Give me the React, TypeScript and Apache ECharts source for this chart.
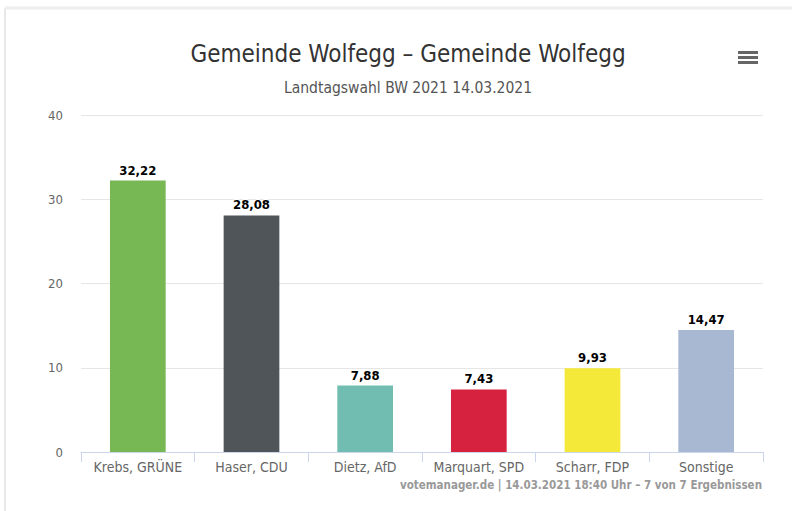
import React, { useEffect, useRef } from "react";
import * as echarts from "echarts";

const categories = ["Krebs, GRÜNE", "Haser, CDU", "Dietz, AfD", "Marquart, SPD", "Scharr, FDP", "Sonstige"];
const values = [32.22, 28.08, 7.88, 7.43, 9.93, 14.47];
const barColors = ["#78b854", "#4f5559", "#72bdb1", "#d7223f", "#f4e939", "#a8b8d3"];
const yTicks = [0, 10, 20, 30, 40];

const titleText = "Gemeinde Wolfegg – Gemeinde Wolfegg";
const subtitleText = "Landtagswahl BW 2021 14.03.2021";
const footerText = "votemanager.de | 14.03.2021 18:40 Uhr – 7 von 7 Ergebnissen";

const FONT = "'Liberation Sans Narrow', 'DejaVu Sans Condensed', 'Open Sans', sans-serif";

export default function App() {
  const ref = useRef<HTMLDivElement>(null);
  useEffect(() => {
    if (!ref.current) return;
    const chart = echarts.init(ref.current, null, { renderer: "svg" });
    chart.setOption({
      animation: false,
      backgroundColor: "#ffffff",
      textStyle: { fontFamily: FONT },
      title: {
        text: titleText,
        subtext: subtitleText,
        left: 403,
        top: 37,
        textAlign: "center",
        itemGap: 14,
        textStyle: { fontSize: 24, fontWeight: "normal", color: "#333333", fontFamily: FONT },
        subtextStyle: { fontSize: 15.5, color: "#555555", fontFamily: FONT },
      },
      grid: { left: 81, right: 29, top: 115, bottom: 59, containLabel: false },
      xAxis: {
        type: "category",
        data: categories,
        axisLine: { lineStyle: { color: "#ccd6eb" } },
        axisTick: { show: true, alignWithLabel: false, length: 10, lineStyle: { color: "#ccd6eb" } },
        axisLabel: { color: "#666666", fontSize: 14, margin: 8, interval: 0, fontFamily: FONT },
      },
      yAxis: {
        type: "value",
        min: 0,
        max: 40,
        interval: 10,
        axisLine: { show: false },
        axisTick: { show: false },
        splitLine: { lineStyle: { color: "#e6e6e6" } },
        axisLabel: { color: "#666666", fontSize: 13, margin: 18, fontFamily: FONT,
          formatter: (v: number) => (yTicks.includes(v) ? String(v) : "") },
      },
      series: [
        {
          type: "bar",
          data: values.map((v, i) => ({ value: v, itemStyle: { color: barColors[i] } })),
          barWidth: "49%",
          label: {
            show: true,
            position: "top",
            distance: 4,
            formatter: (p: any) => p.value.toFixed(2).replace(".", ","),
            fontSize: 13,
            fontWeight: "bold",
            color: "#000000",
            textBorderColor: "#ffffff",
            textBorderWidth: 2,
            fontFamily: FONT,
          },
        },
      ],
      graphic: [
        { type: "line", shape: { x1: 5, y1: 8, x2: 5, y2: 511 }, style: { stroke: "#e8e8e8", lineWidth: 2 } },
        { type: "line", shape: { x1: 5, y1: 8, x2: 792, y2: 8 }, style: { stroke: "#eeeeee", lineWidth: 3 } },
        { type: "rect", shape: { x: 738, y: 51, width: 20, height: 3 }, style: { fill: "#666666" } },
        { type: "rect", shape: { x: 738, y: 56, width: 20, height: 3 }, style: { fill: "#666666" } },
        { type: "rect", shape: { x: 738, y: 61, width: 20, height: 3 }, style: { fill: "#666666" } },
        {
          type: "text",
          right: 30,
          top: 479,
          style: { text: footerText, fontSize: 11.5, fontWeight: "bold", fill: "#999999", fontFamily: FONT },
        },
      ],
    });
    return () => chart.dispose();
  }, []);
  return <div ref={ref} style={{ position: "fixed", left: 0, top: 0, width: 792, height: 511 }} />;
}
